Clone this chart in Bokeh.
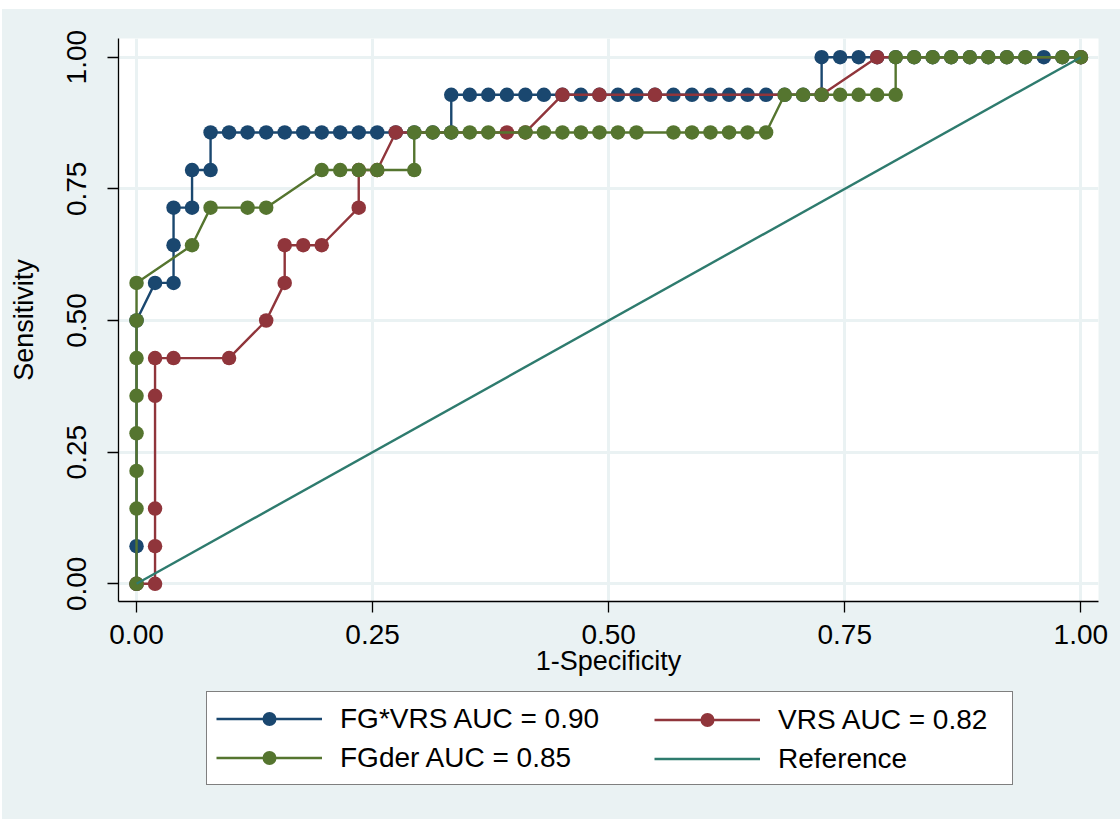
from bokeh.plotting import figure
from bokeh.layouts import column
from bokeh.models import Range1d, FixedTicker, Legend, LegendItem
from bokeh.embed import file_html
from bokeh.resources import INLINE

# ---------------- data ----------------
# FG*VRS  (AUC = 0.90)
fgvrs_x = [0.0, 0.0, 0.0, 0.0196, 0.0392, 0.0392, 0.0392, 0.0588, 0.0588, 0.0784, 0.0784,
           0.098, 0.1176, 0.1373, 0.1569, 0.1765, 0.1961, 0.2157, 0.2353, 0.2549, 0.2745,
           0.2941, 0.3137, 0.3333,
           0.3333, 0.3529, 0.3725, 0.3922, 0.4118, 0.4314, 0.451, 0.4706, 0.4902, 0.5098,
           0.5294, 0.549, 0.5686, 0.5882, 0.6078, 0.6275, 0.6471, 0.6667, 0.6863, 0.7059, 0.7255,
           0.7255, 0.7451, 0.7647, 0.7843, 0.8039, 0.8235, 0.8431, 0.8627, 0.8824, 0.902,
           0.9216, 0.9412, 0.9608, 0.9804, 1.0]
fgvrs_y = [0.0, 0.0714, 0.5, 0.5714, 0.5714, 0.6429, 0.7143, 0.7143, 0.7857, 0.7857, 0.8571,
           0.8571, 0.8571, 0.8571, 0.8571, 0.8571, 0.8571, 0.8571, 0.8571, 0.8571, 0.8571,
           0.8571, 0.8571, 0.8571,
           0.9286, 0.9286, 0.9286, 0.9286, 0.9286, 0.9286, 0.9286, 0.9286, 0.9286, 0.9286,
           0.9286, 0.9286, 0.9286, 0.9286, 0.9286, 0.9286, 0.9286, 0.9286, 0.9286, 0.9286, 0.9286,
           1.0, 1.0, 1.0, 1.0, 1.0, 1.0, 1.0, 1.0, 1.0, 1.0,
           1.0, 1.0, 1.0, 1.0, 1.0]

# VRS  (AUC = 0.82)
vrs_x = [0.0, 0.0196, 0.0196, 0.0196, 0.0196, 0.0196, 0.0392, 0.098, 0.1373, 0.1569, 0.1569,
         0.1765, 0.1961, 0.2353, 0.2353, 0.2549, 0.2745, 0.3922, 0.4118, 0.451, 0.4902, 0.549,
         0.7255, 0.7843, 1.0]
vrs_y = [0.0, 0.0, 0.0714, 0.1429, 0.3571, 0.4286, 0.4286, 0.4286, 0.5, 0.5714, 0.6429,
         0.6429, 0.6429, 0.7143, 0.7857, 0.7857, 0.8571, 0.8571, 0.8571, 0.9286, 0.9286, 0.9286,
         0.9286, 1.0, 1.0]

# FGder  (AUC = 0.85)
fgder_x = [0.0, 0.0, 0.0, 0.0, 0.0, 0.0, 0.0, 0.0, 0.0588, 0.0784, 0.1176, 0.1373,
           0.1961, 0.2157, 0.2353, 0.2549, 0.2941, 0.2941, 0.3137, 0.3333, 0.3529, 0.3725,
           0.4118, 0.4314, 0.451, 0.4706, 0.4902, 0.5098, 0.5294,
           0.5686, 0.5882, 0.6078, 0.6275, 0.6471, 0.6667,
           0.6863, 0.7059, 0.7255, 0.7451, 0.7647, 0.7843, 0.8039,
           0.8039, 0.8235, 0.8431, 0.8627, 0.8824, 0.902, 0.9216, 0.9412, 0.9804, 1.0]
fgder_y = [0.0, 0.1429, 0.2143, 0.2857, 0.3571, 0.4286, 0.5, 0.5714, 0.6429, 0.7143, 0.7143, 0.7143,
           0.7857, 0.7857, 0.7857, 0.7857, 0.7857, 0.8571, 0.8571, 0.8571, 0.8571, 0.8571,
           0.8571, 0.8571, 0.8571, 0.8571, 0.8571, 0.8571, 0.8571,
           0.8571, 0.8571, 0.8571, 0.8571, 0.8571, 0.8571,
           0.9286, 0.9286, 0.9286, 0.9286, 0.9286, 0.9286, 0.9286,
           1.0, 1.0, 1.0, 1.0, 1.0, 1.0, 1.0, 1.0, 1.0, 1.0]

# Reference (chance) line
ref_x = [0.0, 1.0]
ref_y = [0.0, 1.0]

tick_vals = [0.0, 0.25, 0.5, 0.75, 1.0]
tick_labels = ["0.00", "0.25", "0.50", "0.75", "1.00"]

labels = ["FG*VRS AUC = 0.90", "VRS AUC = 0.82", "FGder AUC = 0.85", "Reference"]

# ---------------- styles ----------------
BG = "#EAF2F3"
C_BLUE = "#1A476F"
C_RED = "#90353B"
C_GREEN = "#55752F"
C_TEAL = "#2E7B6E"
FONT = "Liberation Sans"
LW = 2.4
MS = 14.5
W = 1118

p = figure(width=W, height=680, output_backend="svg", toolbar_location=None, tools="",
           x_range=Range1d(-0.0191, 1.0187), y_range=Range1d(-0.0336, 1.0355),
           min_border_left=116, min_border_right=22, min_border_top=29, min_border_bottom=88,
           background_fill_color="white", border_fill_color=BG, outline_line_color=None)
p.frame_align = False

for ax in (p.xaxis[0], p.yaxis[0]):
    ax.ticker = FixedTicker(ticks=tick_vals)
    ax.major_label_overrides = dict(zip(tick_vals, tick_labels))
    ax.major_label_text_font = FONT
    ax.major_label_text_font_size = "28px"
    ax.major_label_text_color = "black"
    ax.axis_label_text_font = FONT
    ax.axis_label_text_font_size = "27px"
    ax.axis_label_text_font_style = "normal"
    ax.axis_label_text_color = "black"
    ax.axis_line_color = "black"
    ax.axis_line_width = 1.3
    ax.major_tick_line_color = "black"
    ax.major_tick_line_width = 1.3
    ax.major_tick_out = 11
    ax.major_tick_in = 0
    ax.minor_tick_line_color = None

p.xaxis.axis_label = "1-Specificity"
p.yaxis.axis_label = "Sensitivity"
p.xaxis.major_label_standoff = 12
p.xaxis.axis_label_standoff = -1
p.yaxis.major_label_orientation = "vertical"
p.yaxis.major_label_standoff = 21
p.yaxis.axis_label_standoff = 26

for g in (p.xgrid[0], p.ygrid[0]):
    g.ticker = FixedTicker(ticks=tick_vals)
    g.grid_line_color = BG
    g.grid_line_width = 3

p.line(fgvrs_x, fgvrs_y, line_color=C_BLUE, line_width=LW)
p.scatter(fgvrs_x, fgvrs_y, size=MS, fill_color=C_BLUE, line_color=None)
p.line(vrs_x, vrs_y, line_color=C_RED, line_width=LW)
p.scatter(vrs_x, vrs_y, size=MS, fill_color=C_RED, line_color=None)
p.line(fgder_x, fgder_y, line_color=C_GREEN, line_width=LW)
p.scatter(fgder_x, fgder_y, size=MS, fill_color=C_GREEN, line_color=None)
p.line(ref_x, ref_y, line_color=C_TEAL, line_width=LW)

# ---------------- legend strip (second figure below the plot) ----------------
# its ranges lie away from the data, so the key renderers below draw nothing in it;
# they only carry the series' styles for the legend keys
q = figure(width=W, height=130, output_backend="svg", toolbar_location=None, tools="",
           x_range=Range1d(10, 11), y_range=Range1d(10, 11),
           x_axis_type=None, y_axis_type=None,
           min_border_left=0, min_border_right=0, min_border_top=0, min_border_bottom=0,
           background_fill_color=BG, border_fill_color=BG, outline_line_color=None)
q.frame_align = False
q.grid.visible = False

k1l = q.line(fgvrs_x, fgvrs_y, line_color=C_BLUE, line_width=2.7)
k1s = q.scatter(fgvrs_x, fgvrs_y, size=MS, fill_color=C_BLUE, line_color=None)
k2l = q.line(vrs_x, vrs_y, line_color=C_RED, line_width=2.7)
k2s = q.scatter(vrs_x, vrs_y, size=MS, fill_color=C_RED, line_color=None)
k3l = q.line(fgder_x, fgder_y, line_color=C_GREEN, line_width=2.7)
k3s = q.scatter(fgder_x, fgder_y, size=MS, fill_color=C_GREEN, line_color=None)
k4l = q.line(ref_x, ref_y, line_color=C_TEAL, line_width=2.7)

common = dict(label_text_font=FONT, label_text_font_size="28px", label_text_color="black",
              glyph_width=106, glyph_height=35, label_height=35, label_standoff=18,
              padding=9, spacing=4, margin=0)

legA = Legend(items=[LegendItem(label=labels[0], renderers=[k1l, k1s]),
                     LegendItem(label=labels[2], renderers=[k3l, k3s])],
              location=(204, 34), label_width=663,
              border_line_color="black", border_line_width=1,
              background_fill_color="white", background_fill_alpha=1.0, **common)
legB = Legend(items=[LegendItem(label=labels[1], renderers=[k2l, k2s]),
                     LegendItem(label=labels[3], renderers=[k4l])],
              location=(643, 34), label_width=0,
              border_line_alpha=0.0, background_fill_alpha=0.0, **common)
q.add_layout(legA, "center")
q.add_layout(legB, "center")

layout = column(p, q, spacing=0,
                styles={"margin-left": "2px", "margin-top": "9px", "background-color": BG})

open("out.html", "w").write(file_html(layout, INLINE))
